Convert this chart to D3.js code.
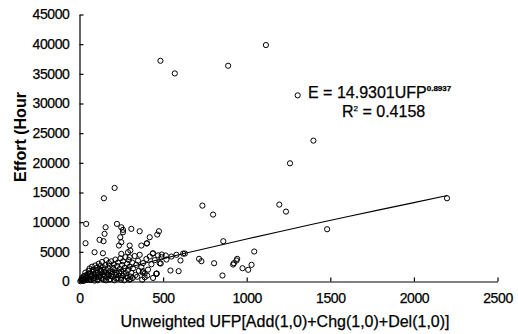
<!DOCTYPE html>
<html>
<head>
<meta charset="utf-8">
<script src="https://cdn.jsdelivr.net/npm/d3@7"></script>
<style>
    body { margin: 0; background: #fff; }
    #chart text { font-family: "Liberation Sans", Arial, sans-serif; fill: #000; }
</style>
</head>
<body>
<div id="chart"></div>
<script>
// unweighted UFP (x) vs effort in hours (y)
const ufp = [
    10, 15, 20, 25, 30, 35, 40, 45, 50, 55, 60, 60, 65, 70, 75, 80, 80, 85, 90, 90,
    95, 100, 100, 105, 110, 110, 115, 120, 120, 125, 130, 130, 135, 140, 140, 145, 150, 150, 155, 160,
    160, 165, 170, 175, 175, 180, 185, 185, 190, 195, 200, 200, 205, 210, 215, 220, 220, 225, 230, 235,
    240, 245, 250, 250, 255, 260, 265, 270, 275, 280, 285, 290, 295, 300, 305, 310, 315, 320, 330, 335,
    340, 350, 355, 360, 370, 380, 390, 400, 410, 420, 430, 450, 460, 470, 490, 520, 550, 580, 620,
    5, 12, 22, 28, 33, 38, 48, 52, 58, 68, 72, 78, 88, 98, 108, 118, 128, 138, 148, 158,
    168, 178, 188, 198, 208, 218, 228, 238, 248, 258, 268, 278, 288, 298, 318, 345, 375, 405, 440,
    438, 492, 516, 630, 486, 462, 378, 390, 402,
    210, 146, 40, 36, 735, 799, 860, 604, 544, 593, 715, 729, 805, 855, 919, 939,
    475, 465, 420, 360, 310, 404, 370, 440, 300, 304, 480, 460, 380, 304,
    224, 260, 250, 260, 244, 250, 236, 156, 150, 120, 144, 140, 90, 250, 290, 300,
    484, 570, 889, 1115, 1305, 1399, 1259, 2198, 1195, 1235, 1481, 1045, 1029, 975, 1009, 923, 943
];
const effort = [
    200, 600, 100, 900, 400, 1500, 250, 1100, 700, 1800, 300, 2200, 1300, 900, 2500, 500, 1600, 2000, 150, 1200,
    2700, 800, 1900, 2300, 400, 1500, 3000, 1000, 2100, 2600, 600, 1700, 3300, 1200, 2400, 300, 900, 2000, 2800, 1500,
    3600, 700, 2200, 1100, 3100, 2600, 400, 1700, 3400, 1300, 2300, 800, 2900, 1900, 3700, 500, 1500, 2600, 3200, 1000,
    2100, 3900, 1700, 600, 2800, 3400, 1300, 2300, 4100, 900, 3000, 1900, 3600, 2500, 400, 1500, 3200, 2200, 4300, 1100,
    2800, 3500, 1800, 4500, 2400, 3100, 700, 3800, 2000, 4200, 2900, 3600, 1300, 4400, 4100, 3700, 4200, 4500, 4700,
    50, 300, 500, 150, 1000, 600, 350, 1300, 450, 250, 1000, 1900, 600, 1400, 200, 700, 1900, 500, 1600, 200,
    1200, 300, 900, 1600, 200, 1100, 500, 1500, 300, 1000, 200, 1400, 600, 300, 600, 800, 300, 1000, 600,
    4710, 4540, 4380, 4710, 3030, 1350, 1520, 1350, 6400,
    15770, 14030, 9710, 6450, 12790, 11280, 6790, 3540, 1850, 1740, 3820, 3420, 3080, 1010, 2860, 3540,
    8470, 7910, 7460, 8470, 8870, 6450, 6060, 4760, 6060, 5220, 3080, 1290, 1740, 840,
    9710, 8700, 9140, 8300, 7460, 6620, 6060, 9140, 8030, 7020, 6790, 4760, 4930, 4650, 4930, 4090,
    37200, 35070, 36360, 39850, 31370, 23740, 19920, 14030, 12960, 11780, 8810, 5050, 2810, 2240, 1970, 3080, 3820
];

// fitted power curve, sampled by eye along the drawn line
const trendX = [1, 50, 100, 200, 400, 600, 800, 1000, 1200, 1400, 1600, 1800, 2000, 2200];
const trendY = [15, 490, 920, 1700, 3160, 4540, 5870, 7170, 8430, 9680, 10900, 12110, 13300, 14500];

const xTicks = [0, 500, 1000, 1500, 2000, 2500];
const yTicks = [0, 5000, 10000, 15000, 20000, 25000, 30000, 35000, 40000, 45000];

const width = 518, height = 334;

const svg = d3.select("#chart").append("svg")
    .attr("width", width)
    .attr("height", height);

const x = d3.scaleLinear().domain([0, 2500]).range([79.5, 497.5]);
const y = d3.scaleLinear().domain([0, 45000]).range([281.5, 14.5]);

// axes, ticks pointing inward
svg.append("g")
    .attr("transform", "translate(0,281.5)")
    .call(d3.axisBottom(x).tickValues(xTicks).tickSize(-4).tickSizeOuter(0).tickPadding(12).tickFormat(d3.format("d")))
    .call(g => g.selectAll(".domain, line").attr("stroke", "#000").attr("stroke-width", 1.2))
    .call(g => g.selectAll("text").attr("font-size", 14).attr("letter-spacing", -0.4)
        .attr("stroke", "#000").attr("stroke-width", 0.25));

svg.append("g")
    .attr("transform", "translate(79.5,0)")
    .call(d3.axisLeft(y).tickValues(yTicks).tickSize(-4).tickSizeOuter(0).tickPadding(10).tickFormat(d3.format("d")))
    .call(g => g.selectAll(".domain, line").attr("stroke", "#000").attr("stroke-width", 1.2))
    .call(g => g.selectAll("text").attr("font-size", 14).attr("letter-spacing", -0.4)
        .attr("stroke", "#000").attr("stroke-width", 0.25));

// trend line
svg.append("path")
    .datum(trendX.map((d, i) => [d, trendY[i]]))
    .attr("fill", "none")
    .attr("stroke", "#000")
    .attr("stroke-width", 1.1)
    .attr("d", d3.line().x(d => x(d[0])).y(d => y(d[1])));

// points
svg.append("g").selectAll("circle")
    .data(ufp.map((d, i) => [d, effort[i]]))
    .join("circle")
    .attr("cx", d => x(d[0]))
    .attr("cy", d => y(d[1]))
    .attr("r", 2.6)
    .attr("fill", "none")
    .attr("stroke", "#000")
    .attr("stroke-width", 1);

// equation
const eq = svg.append("text")
    .attr("x", 308)
    .attr("y", 98)
    .attr("font-size", 16)
    .attr("stroke", "#000")
    .attr("stroke-width", 0.25);
eq.append("tspan").text("E = 14.9301UFP");
eq.append("tspan")
    .attr("dy", -7)
    .attr("font-size", 8)
    .attr("font-weight", "bold")
    .text("0.8937");

const r2 = svg.append("text")
    .attr("x", 342)
    .attr("y", 117)
    .attr("font-size", 16)
    .attr("stroke", "#000")
    .attr("stroke-width", 0.25);
r2.append("tspan").text("R");
r2.append("tspan").attr("dy", -6).attr("font-size", 8).text("2");
r2.append("tspan").attr("dy", 6).text(" = 0.4158");

// axis titles
svg.append("text")
    .attr("x", 285)
    .attr("y", 327)
    .attr("text-anchor", "middle")
    .attr("font-size", 16)
    .attr("stroke", "#000")
    .attr("stroke-width", 0.25)
    .text("Unweighted UFP[Add(1,0)+Chg(1,0)+Del(1,0)]");

svg.append("text")
    .attr("transform", "translate(26,137) rotate(-90)")
    .attr("text-anchor", "middle")
    .attr("font-size", 16)
    .attr("font-weight", "bold")
    .text("Effort (Hour");
</script>
</body>
</html>
